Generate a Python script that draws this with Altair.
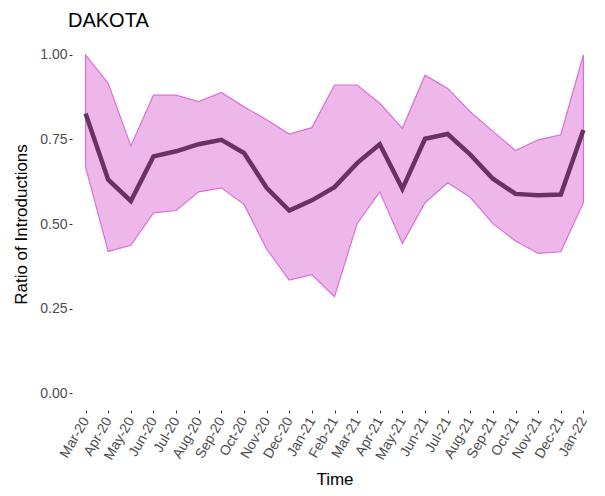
import altair as alt
import pandas as pd

months = ["Mar-20", "Apr-20", "May-20", "Jun-20", "Jul-20", "Aug-20", "Sep-20", "Oct-20",
          "Nov-20", "Dec-20", "Jan-21", "Feb-21", "Mar-21", "Apr-21", "May-21", "Jun-21",
          "Jul-21", "Aug-21", "Sep-21", "Oct-21", "Nov-21", "Dec-21", "Jan-22"]
mean_ratio = [0.827, 0.631, 0.568, 0.700, 0.715, 0.736, 0.749, 0.710, 0.607, 0.540, 0.570,
              0.609, 0.680, 0.736, 0.604, 0.752, 0.766, 0.705, 0.634, 0.589, 0.585, 0.587, 0.778]
upper_ratio = [1.000, 0.916, 0.731, 0.881, 0.881, 0.862, 0.889, 0.847, 0.808, 0.766, 0.785,
               0.911, 0.911, 0.857, 0.783, 0.940, 0.901, 0.832, 0.774, 0.717, 0.749, 0.764, 1.000]
lower_ratio = [0.668, 0.419, 0.437, 0.533, 0.540, 0.595, 0.607, 0.558, 0.426, 0.334, 0.350,
               0.285, 0.501, 0.595, 0.442, 0.563, 0.622, 0.579, 0.501, 0.450, 0.413, 0.418, 0.563]

df = pd.DataFrame({"Time": months, "mean": mean_ratio, "upper": upper_ratio, "lower": lower_ratio})

FONT = "Liberation Sans"

x = alt.X("Time:O", sort=months, scale=alt.Scale(type="point", padding=0.6),
          axis=alt.Axis(title="Time", labelAngle=-60, labelAlign="right", labelBaseline="middle",
                        labelColor="#4d4d4d", labelFontSize=14, labelFont=FONT,
                        tickColor="#333333", tickSize=3, labelPadding=5, domain=False, grid=False,
                        titleFontSize=17, titleFont=FONT, titleColor="black", titleFontWeight="normal",
                        titlePadding=10))
yscale = alt.Scale(domain=[-0.05, 1.05], nice=False, zero=False)
yaxis = alt.Axis(title="Ratio of Introductions", values=[0, 0.25, 0.5, 0.75, 1.0], format=".2f",
                 labelColor="#4d4d4d", labelFontSize=14, labelFont=FONT, tickColor="#333333",
                 tickSize=3, labelPadding=2, domain=False, grid=False, titleFontSize=17,
                 titleFont=FONT, titleColor="black", titleFontWeight="normal", titlePadding=9)

band = alt.Chart(df).mark_area(color="#EDB7EA", stroke="#DA70D6", strokeWidth=1.2, opacity=1).encode(
    x=x,
    y=alt.Y("lower:Q", scale=yscale, axis=yaxis),
    y2="upper:Q",
)
line = alt.Chart(df).mark_line(color="#6a3163", strokeWidth=4.5, strokeJoin="miter").encode(
    x=x,
    y=alt.Y("mean:Q", scale=yscale, axis=yaxis),
)

chart = (band + line).properties(
    width=525, height=372,
    title=alt.TitleParams("DAKOTA", anchor="start", frame="group", fontSize=20, font=FONT,
                          fontWeight="normal", color="black", dx=-4, offset=7),
    autosize=alt.AutoSizeParams(type="none"),
    padding={"left": 64, "top": 30, "right": 0, "bottom": 78},
).configure_view(stroke=None)

chart.save("out.html", embed_options={"renderer": "svg", "actions": False})
